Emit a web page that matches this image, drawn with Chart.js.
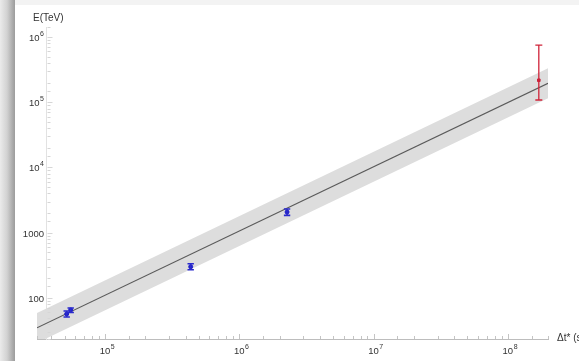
<!DOCTYPE html>
<html>
<head>
<meta charset="utf-8">
<script src="https://cdn.jsdelivr.net/npm/chart.js@4"></script>
<style>
  html, body { margin: 0; padding: 0; width: 579px; height: 361px; overflow: hidden; }
  body { background: #f3f3f3; position: relative; }
  #shadow { position: absolute; left: 0; top: 0; width: 15px; height: 361px;
    background: linear-gradient(to right, #ebebeb 0px, #d2d2d2 7px, #a8a8a8 13px, #9c9c9c 15px); }
  #paper { position: absolute; left: 15px; top: 5px; width: 564px; height: 356px; background: #fff; }
  #myChart { position: absolute; left: 0; top: 0; }
</style>
</head>
<body>
<div id="shadow"></div>
<div id="paper"></div>
<canvas id="myChart" width="579" height="361"></canvas>
<script>
// measured points (blue)
var dt = [51900, 55600, 435000, 2270000];
var energy = [56.9, 65.5, 301, 2075];
var energyLow = [51, 60, 270, 1840];
var energyHigh = [63, 70, 335, 2310];

// the red one
var dtRed = [1.7e8];
var energyRed = [2.17e5];
var energyRedLow = [1.08e5];
var energyRedHigh = [7.5e5];

// fit line and its band
var fitX = [31200, 1.99e8];
var fitY = [34.8, 195000];
var bandUpper = [59, 332000];
var bandLower = [20.5, 115000];

// tick labels: [value, base, exponent]
var xTicks = [[1e5, '10', '5'], [1e6, '10', '6'], [1e7, '10', '7'], [1e8, '10', '8']];
var yTicks = [[100, '100', ''], [1000, '1000', ''], [1e4, '10', '4'], [1e5, '10', '5'], [1e6, '10', '6']];

var FONT = '"Liberation Sans", Arial, sans-serif';

function pts(xs, ys) {
  var out = [];
  for (var i = 0; i < xs.length; i++) out.push({ x: xs[i], y: ys[i] });
  return out;
}

function isMajor(v) {
  var l = Math.log10(v);
  return Math.abs(l - Math.round(l)) < 1e-6;
}

// inward tick marks, tick labels with superscripts, axis texts
var axesPlugin = {
  id: 'axesPlugin',
  afterDraw: function(chart) {
    var ctx = chart.ctx;
    var xs = chart.scales.x, ys = chart.scales.y;
    var x0 = Math.round(xs.getPixelForValue(37000)) + 0.5;
    var yb = chart.chartArea.bottom;
    ctx.save();
    ctx.lineWidth = 1;
    xs.ticks.forEach(function(t) {
      var px = Math.round(xs.getPixelForValue(t.value)) + 0.5;
      ctx.strokeStyle = '#c4c4c4';
      ctx.beginPath();
      ctx.moveTo(px, yb);
      ctx.lineTo(px, yb - (isMajor(t.value) ? 5 : 3));
      ctx.stroke();
    });
    ys.ticks.forEach(function(t) {
      var py = Math.round(ys.getPixelForValue(t.value)) + 0.5;
      ctx.strokeStyle = '#d6d6d6';
      ctx.beginPath();
      ctx.moveTo(x0, py);
      ctx.lineTo(x0 + (isMajor(t.value) ? 5 : 3), py);
      ctx.stroke();
    });

    ctx.fillStyle = '#333';
    ctx.textBaseline = 'alphabetic';
    var big = '9.5px ' + FONT, small = '7px ' + FONT;
    xTicks.forEach(function(t) {
      var px = xs.getPixelForValue(t[0]);
      ctx.font = big;
      var w = ctx.measureText(t[1]).width;
      ctx.textAlign = 'left';
      ctx.fillText(t[1], px - w / 2, 354);
      ctx.font = small;
      ctx.fillText(t[2], px + w / 2 + 0.5, 349);
    });
    yTicks.forEach(function(t) {
      var py = ys.getPixelForValue(t[0]);
      ctx.font = small;
      var we = t[2] ? ctx.measureText(t[2]).width + 0.5 : 0;
      ctx.textAlign = 'right';
      if (t[2]) ctx.fillText(t[2], 44, py - 1);
      ctx.font = big;
      ctx.fillText(t[1], 44 - we, py + 4);
    });

    ctx.font = '10px ' + FONT;
    ctx.textBaseline = 'middle';
    ctx.textAlign = 'left';
    ctx.fillText('E(TeV)', 33, 18);
    ctx.fillText('\u0394t* (s)', 557, 338);
    ctx.restore();
  }
};

var errorBars = {
  id: 'errorBars',
  afterDatasetsDraw: function(chart) {
    var ctx = chart.ctx;
    var xs = chart.scales.x, ys = chart.scales.y;
    function bar(x, lo, hi, color, cap, lw) {
      var px = xs.getPixelForValue(x);
      var p1 = ys.getPixelForValue(lo), p2 = ys.getPixelForValue(hi);
      ctx.strokeStyle = color;
      ctx.lineWidth = lw;
      ctx.beginPath();
      ctx.moveTo(px, p1); ctx.lineTo(px, p2);
      ctx.moveTo(px - cap, p1); ctx.lineTo(px + cap, p1);
      ctx.moveTo(px - cap, p2); ctx.lineTo(px + cap, p2);
      ctx.stroke();
    }
    ctx.save();
    for (var i = 0; i < dt.length; i++) bar(dt[i], energyLow[i], energyHigh[i], '#2a2acc', 3.2, 1.6);
    for (var j = 0; j < dtRed.length; j++) bar(dtRed[j], energyRedLow[j], energyRedHigh[j], '#d0243a', 3.5, 1.3);
    ctx.restore();
  }
};

new Chart(document.getElementById('myChart').getContext('2d'), {
  type: 'scatter',
  data: {
    datasets: [
      { data: pts(dt, energy), backgroundColor: '#2020c8', borderColor: '#2020c8', pointRadius: 2, order: 0 },
      { data: pts(dtRed, energyRed), backgroundColor: '#c8203a', borderColor: '#c8203a', pointRadius: 1.8, pointStyle: 'rect', order: 0 },
      { data: pts(fitX, fitY), showLine: true, borderColor: '#5a5a5a', borderWidth: 1.1, pointRadius: 0, order: 1 },
      { data: pts(fitX, bandUpper), showLine: true, borderWidth: 0, borderColor: 'rgba(0,0,0,0)', pointRadius: 0,
        backgroundColor: '#dddddd', fill: '+1', order: 2 },
      { data: pts(fitX, bandLower), showLine: true, borderWidth: 0, borderColor: 'rgba(0,0,0,0)', pointRadius: 0, order: 2 }
    ]
  },
  options: {
    responsive: false,
    animation: false,
    events: [],
    layout: { padding: { left: 37, right: 31, top: 27, bottom: 0 } },
    plugins: { legend: { display: false }, tooltip: { enabled: false } },
    scales: {
      x: {
        type: 'logarithmic',
        position: 'bottom',
        min: 31200, max: 1.99e8,
        afterFit: function(s) { s.height = 22; },
        grid: { drawOnChartArea: false, drawTicks: false },
        border: { color: '#bdbdbd', width: 1 },
        ticks: { display: false, autoSkip: false }
      },
      y: {
        type: 'logarithmic',
        position: { x: 37000 },
        min: 23.5, max: 1.42e6,
        grid: { drawOnChartArea: false, drawTicks: false },
        border: { color: '#e2e2e2', width: 1 },
        ticks: { display: false, autoSkip: false }
      }
    }
  },
  plugins: [axesPlugin, errorBars]
});
</script>
</body>
</html>
